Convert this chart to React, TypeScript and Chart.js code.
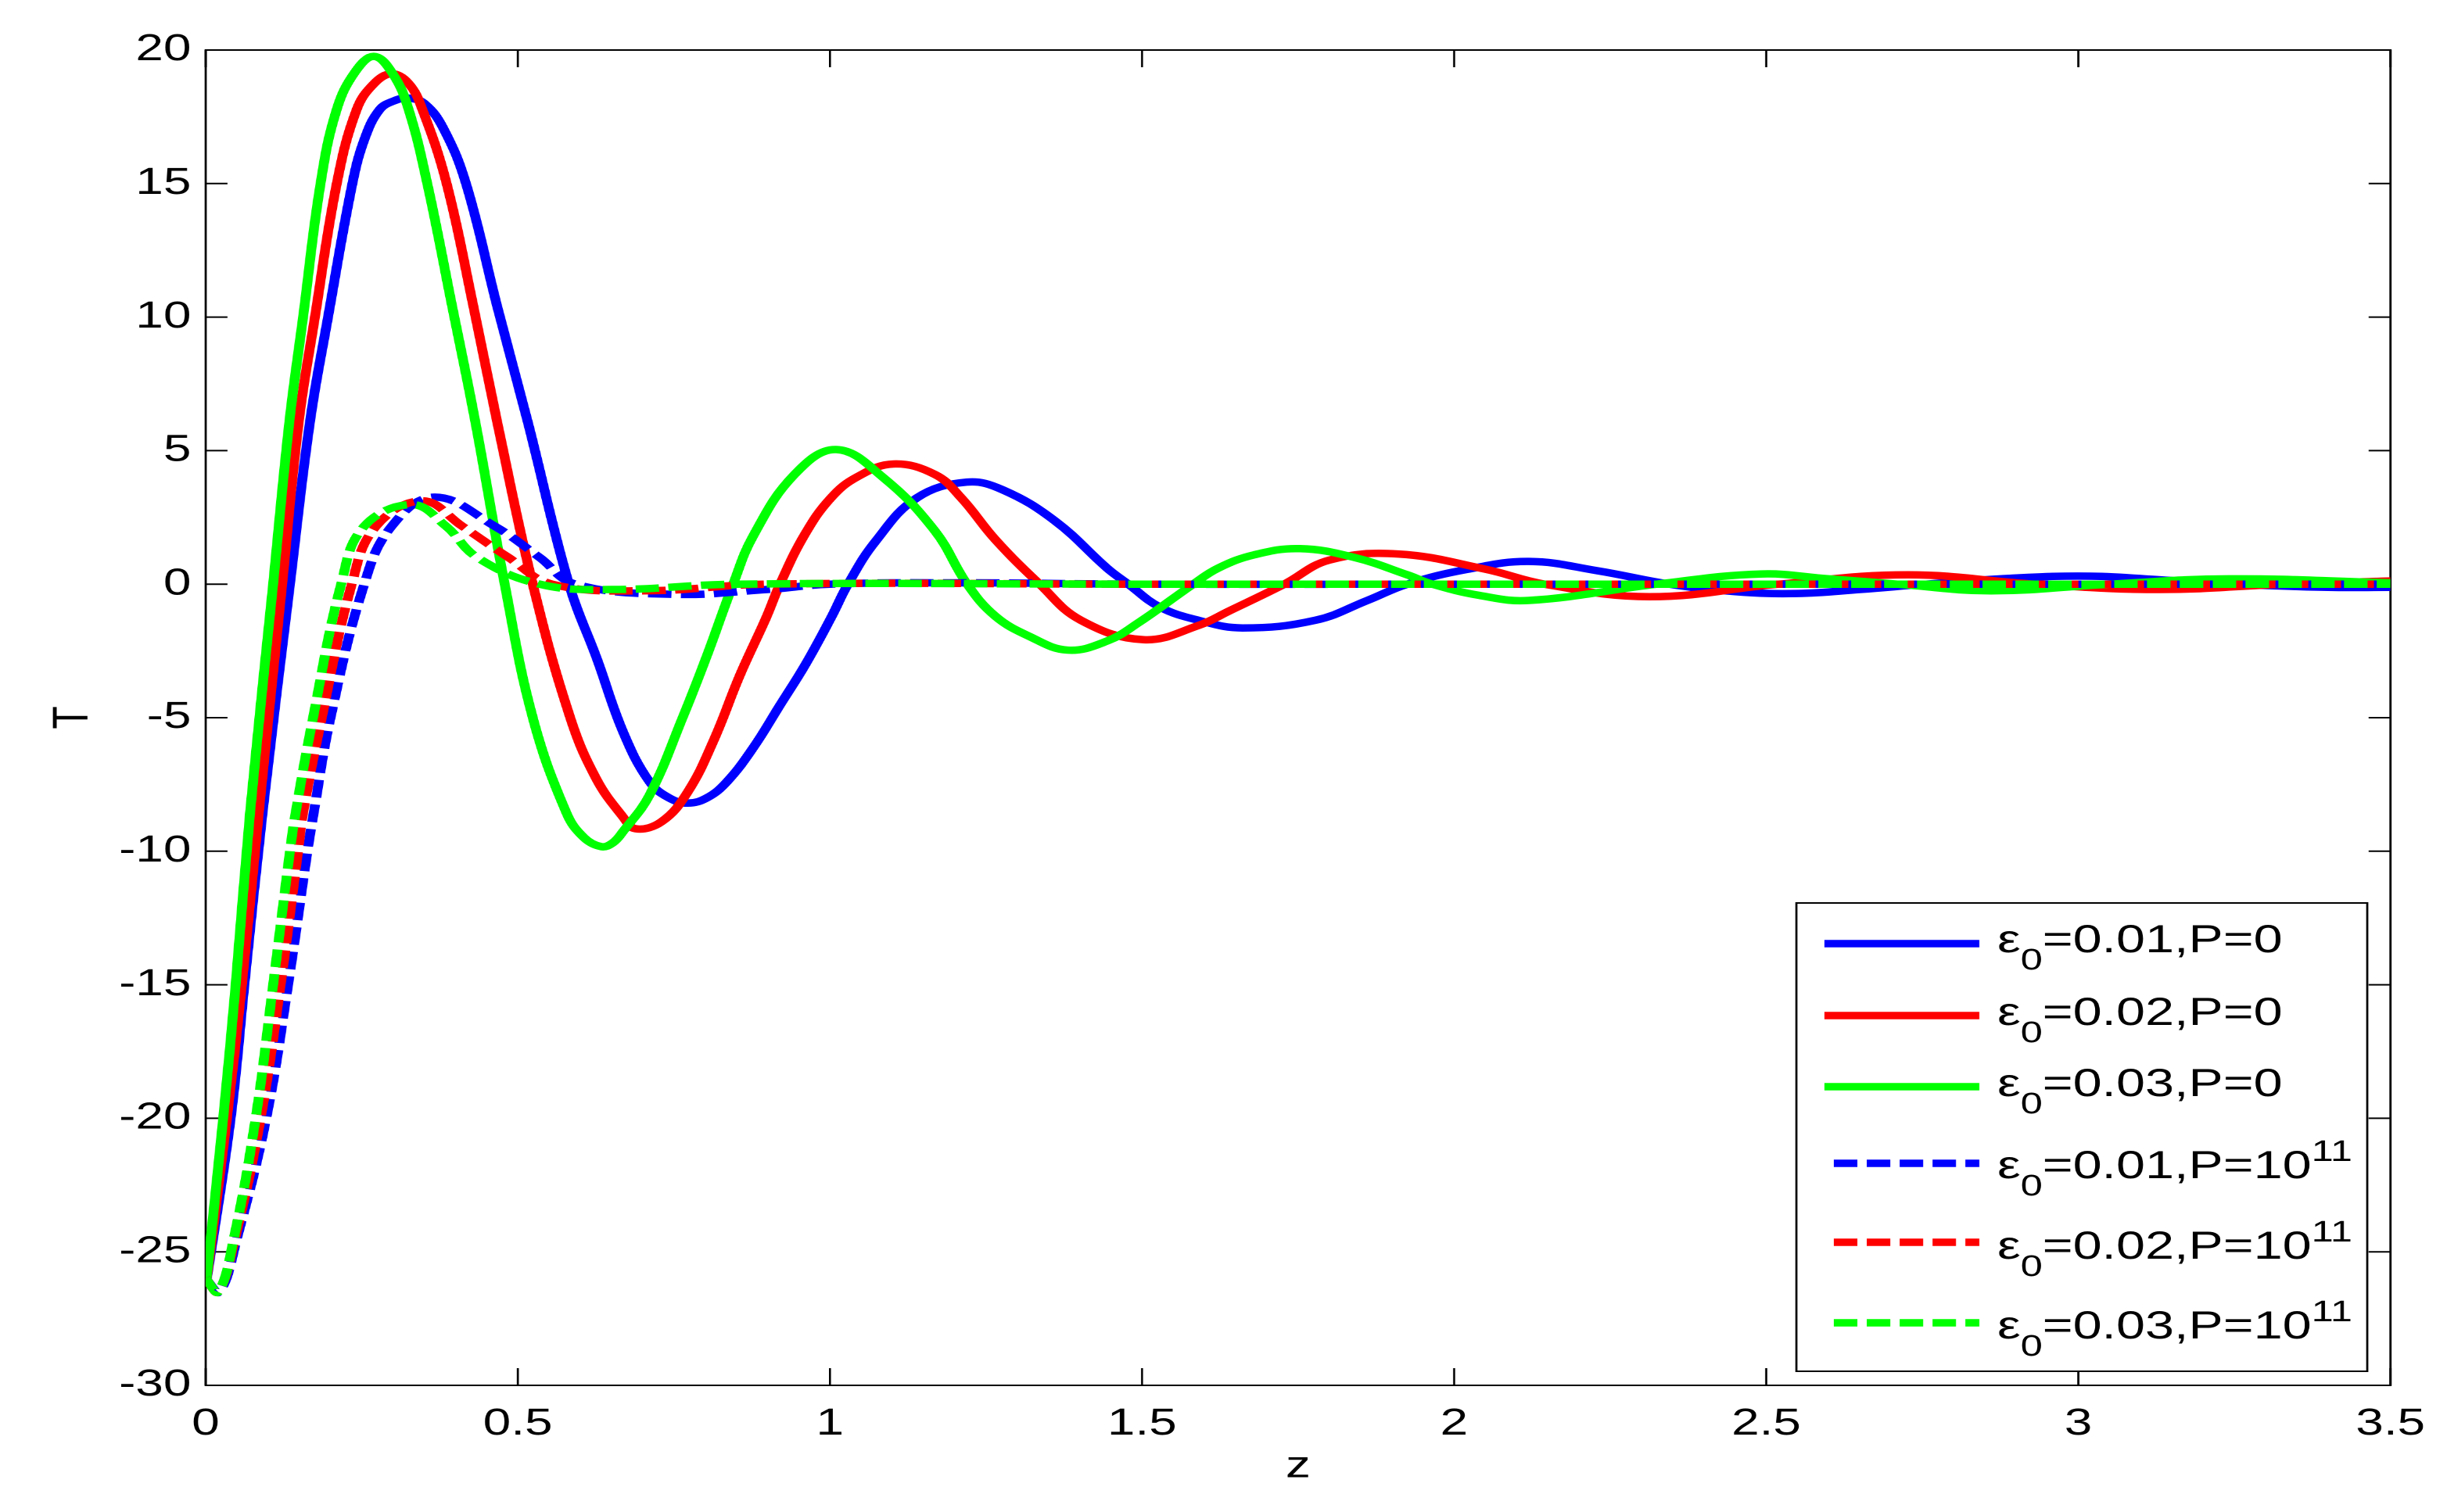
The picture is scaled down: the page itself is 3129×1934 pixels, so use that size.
import React, { useEffect, useRef } from "react";
import { Chart, registerables } from "chart.js";

Chart.register(...registerables);

// ---------------- data ----------------
const zBlueSolid = [0, 0.04, 0.062, 0.091, 0.135, 0.167, 0.196, 0.235, 0.255, 0.279, 0.302, 0.325, 0.35, 0.38, 0.417, 0.467, 0.516, 0.582, 0.627, 0.669, 0.711, 0.742, 0.772, 0.803, 0.835, 0.877, 0.919, 0.961, 1.002, 1.029, 1.073, 1.14, 1.219, 1.277, 1.361, 1.444, 1.478, 1.528, 1.59, 1.661, 1.778, 1.861, 1.925, 2.02, 2.12, 2.23, 2.345, 2.45, 2.55, 2.65, 2.756, 2.89, 3.02, 3.14, 3.25, 3.4, 3.5];
const tBlueSolid = [-26.3, -20, -15, -8.57, 0, 6.07, 10, 15, 16.7, 17.78, 18.1, 18.2, 18.0, 17.1, 15, 10.4, 6.07, 0, -2.81, -5.55, -7.4, -8.0, -8.2, -8.0, -7.4, -6.13, -4.57, -3.0, -1.25, 0, 1.6, 3.24, 3.82, 3.53, 2.36, 0.6, 0, -0.85, -1.35, -1.64, -1.35, -0.61, 0, 0.55, 0.85, 0.5, 0, -0.28, -0.35, -0.2, 0, 0.22, 0.3, 0.15, 0, -0.12, -0.12];

const zRedSolid = [0, 0.034, 0.058, 0.085, 0.1225, 0.149, 0.175, 0.21, 0.242, 0.27, 0.298, 0.325, 0.347, 0.386, 0.428, 0.467, 0.524, 0.584, 0.626, 0.668, 0.689, 0.73, 0.772, 0.814, 0.856, 0.898, 0.92, 0.96, 1.002, 1.044, 1.102, 1.168, 1.21, 1.265, 1.336, 1.402, 1.503, 1.59, 1.64, 1.728, 1.8, 1.91, 2.05, 2.145, 2.313, 2.52, 2.727, 2.93, 3.13, 3.33, 3.5];
const tRedSolid = [-26.3, -20, -15, -8.57, 0, 6.07, 10, 15, 17.78, 18.75, 19.11, 18.75, 17.78, 15, 10.5, 6.07, 0, -5, -7.3, -8.7, -9.16, -8.9, -7.79, -5.84, -3.4, -1.25, 0, 1.87, 3.24, 4.02, 4.5, 4.11, 3.24, 1.67, 0, -1.35, -2.08, -1.55, -1.0, 0, 0.9, 1.13, 0.56, 0, -0.47, 0, 0.35, 0, -0.2, 0, 0.12];

const zGreenSolid = [0, 0.028, 0.048, 0.071, 0.108, 0.134, 0.156, 0.184, 0.21, 0.24, 0.27, 0.3, 0.325, 0.355, 0.394, 0.432, 0.479, 0.524, 0.578, 0.606, 0.634, 0.652, 0.669, 0.711, 0.764, 0.801, 0.845, 0.877, 0.943, 1.01, 1.085, 1.168, 1.22, 1.265, 1.319, 1.381, 1.444, 1.494, 1.582, 1.622, 1.68, 1.753, 1.84, 1.925, 1.965, 2.04, 2.12, 2.325, 2.49, 2.6, 2.71, 2.86, 3.05, 3.24, 3.5];
const tGreenSolid = [-26.3, -20, -15, -8.57, 0, 6.07, 10, 15, 17.78, 19.2, 19.76, 19.1, 17.78, 15, 10.5, 6.07, 0, -5, -8.57, -9.49, -9.83, -9.69, -9.25, -7.9, -5.0, -2.8, 0, 1.8, 4.1, 5.04, 4.0, 2.0, 0, -1.2, -1.95, -2.47, -2.13, -1.45, 0, 0.6, 1.1, 1.33, 1.0, 0.35, 0, -0.42, -0.61, 0, 0.38, 0.2, 0, -0.25, 0, 0.2, 0.05];

const zBlueDashed = [0, 0.022, 0.05, 0.097, 0.132, 0.163, 0.173, 0.2, 0.254, 0.298, 0.367, 0.463, 0.535, 0.592, 0.75, 0.9, 1.0, 1.2, 1.5, 2.0, 2.5, 3.0, 3.5];
const tBlueDashed = [-26.0, -26.5, -24.5, -20, -15, -10, -8.57, -5, 0, 2.17, 3.26, 2.17, 1.0, 0, -0.38, -0.2, 0, 0.05, 0, 0, 0, 0, 0];

const zRedDashed = [0, 0.02, 0.047, 0.088, 0.12, 0.148, 0.156, 0.186, 0.234, 0.273, 0.347, 0.411, 0.485, 0.555, 0.7, 0.9, 1.5, 2.0, 2.5, 3.0, 3.5];
const tRedDashed = [-26.0, -26.5, -24.5, -20, -15, -10, -8.57, -5, 0, 2.17, 3.12, 2.17, 1.0, 0, -0.25, 0, 0, 0, 0, 0, 0];

const zGreenDashed = [0, 0.02, 0.045, 0.08, 0.108, 0.135, 0.144, 0.172, 0.217, 0.254, 0.33, 0.385, 0.435, 0.535, 0.65, 0.85, 1.5, 2.0, 2.5, 3.0, 3.5];
const tGreenDashed = [-26.0, -26.5, -24.5, -20, -15, -10, -8.57, -5, 0, 2.17, 2.98, 2.17, 1.0, 0, -0.2, 0, 0, 0, 0, 0, 0];

const xTickValues = [0, 0.5, 1, 1.5, 2, 2.5, 3, 3.5];
const xTickLabels = ["0", "0.5", "1", "1.5", "2", "2.5", "3", "3.5"];
const yTickValues = [-30, -25, -20, -15, -10, -5, 0, 5, 10, 15, 20];
const yTickLabels = ["-30", "-25", "-20", "-15", "-10", "-5", "0", "5", "10", "15", "20"];

const legendEps = ["0.01", "0.02", "0.03", "0.01", "0.02", "0.03"];
const legendPBase = ["0", "0", "0", "10", "10", "10"];
const legendPExp = ["", "", "", "11", "11", "11"];
const seriesLabels = [
  "ε0=0.01,P=0",
  "ε0=0.02,P=0",
  "ε0=0.03,P=0",
  "ε0=0.01,P=10^11",
  "ε0=0.02,P=10^11",
  "ε0=0.03,P=10^11",
];
const seriesZ = [zBlueSolid, zRedSolid, zGreenSolid, zBlueDashed, zRedDashed, zGreenDashed];
const seriesT = [tBlueSolid, tRedSolid, tGreenSolid, tBlueDashed, tRedDashed, tGreenDashed];
const seriesColors = ["#0000ff", "#ff0000", "#00ff00", "#0000ff", "#ff0000", "#00ff00"];
const seriesDashed = [false, false, false, true, true, true];

// ---------------- layout ----------------
const FULL_W = 3129;
const FULL_H = 1934;
const W = 2353; // logical canvas width, stretched horizontally to FULL_W
const SX = FULL_W / W;
const L = (px: number) => px / SX;
const PLOT_LEFT = L(263);
const PLOT_RIGHT = L(3058);
const PLOT_TOP = 64;
const PLOT_BOTTOM = 1772;
const FONT = '"Liberation Sans", Arial, sans-serif';
const LINE_W = 9.5;
const DASH = [22.6, 9];

const framePlugin = {
  id: "frameTicks",
  beforeDatasetsDraw(chart: any) {
    const { ctx, chartArea: a, scales } = chart;
    const xs = scales.x;
    const ys = scales.y;
    ctx.save();
    ctx.strokeStyle = "#000";
    ctx.lineWidth = 2;
    ctx.setLineDash([]);
    ctx.beginPath();
    xTickValues.forEach((v) => {
      const px = xs.getPixelForValue(v);
      ctx.moveTo(px, a.bottom);
      ctx.lineTo(px, a.bottom - 22);
      ctx.moveTo(px, a.top);
      ctx.lineTo(px, a.top + 22);
    });
    yTickValues.forEach((v) => {
      const py = ys.getPixelForValue(v);
      ctx.moveTo(a.left, py);
      ctx.lineTo(a.left + 21, py);
      ctx.moveTo(a.right, py);
      ctx.lineTo(a.right - 21, py);
    });
    ctx.stroke();
    ctx.strokeRect(a.left, a.top, a.right - a.left, a.bottom - a.top);
    ctx.restore();
  },
};

const legendPlugin = {
  id: "richLegend",
  afterDraw(chart: any) {
    const ctx = chart.ctx;
    const bx = L(2297);
    const by = 1155;
    const bw = L(3027) - L(2297);
    const bh = 1754 - 1155;
    const lineY = [1207, 1299, 1390, 1488, 1589, 1692];
    const baseY = [1218, 1311, 1402, 1507, 1610, 1712];
    const mainFont = `50px ${FONT}`;
    const smallFont = `38px ${FONT}`;
    ctx.save();
    ctx.fillStyle = "#fff";
    ctx.fillRect(bx, by, bw, bh);
    ctx.strokeStyle = "#000";
    ctx.lineWidth = 2;
    ctx.setLineDash([]);
    ctx.strokeRect(bx, by, bw, bh);
    for (let i = 0; i < legendEps.length; i++) {
      ctx.strokeStyle = seriesColors[i];
      ctx.lineWidth = LINE_W;
      ctx.lineCap = "butt";
      ctx.setLineDash(seriesDashed[i] ? DASH : []);
      ctx.beginPath();
      ctx.moveTo(seriesDashed[i] ? L(2345) : L(2333), lineY[i]);
      ctx.lineTo(L(2531), lineY[i]);
      ctx.stroke();
      ctx.setLineDash([]);

      ctx.fillStyle = "#000";
      ctx.textBaseline = "alphabetic";
      ctx.textAlign = "left";
      let x = L(2554);
      const b = baseY[i];
      ctx.font = mainFont;
      ctx.fillText("ε", x, b);
      x += ctx.measureText("ε").width;
      ctx.font = smallFont;
      ctx.fillText("0", x, b + 22);
      x += ctx.measureText("0").width;
      ctx.font = mainFont;
      const main = `=${legendEps[i]},P=${legendPBase[i]}`;
      ctx.fillText(main, x, b);
      x += ctx.measureText(main).width;
      if (legendPExp[i]) {
        ctx.font = smallFont;
        ctx.fillText(legendPExp[i], x, b - 22);
      }
    }
    ctx.restore();
  },
};

export default function App() {
  const ref = useRef<HTMLCanvasElement>(null);

  useEffect(() => {
    document.body.style.margin = "0";
    document.body.style.overflow = "hidden";
    const canvas = ref.current;
    if (!canvas) return;

    const datasets = seriesZ.map((zs, i) => ({
      label: seriesLabels[i],
      data: zs.map((z, k) => ({ x: z, y: seriesT[i][k] })),
      borderColor: seriesColors[i],
      backgroundColor: seriesColors[i],
      borderWidth: LINE_W,
      borderDash: seriesDashed[i] ? DASH : [],
      borderCapStyle: "butt",
      borderJoinStyle: "round",
      tension: 0.4,
      pointRadius: 0,
      pointHoverRadius: 0,
      fill: false,
      order: seriesZ.length - i,
    }));

    const tickFont = { family: FONT, size: 48 };

    const chart = new Chart(canvas, {
      type: "line",
      data: { datasets } as any,
      options: {
        responsive: false,
        animation: false,
        devicePixelRatio: 2,
        events: [],
        layout: {
          padding: { left: 0, top: PLOT_TOP, right: W - PLOT_RIGHT, bottom: 0 },
        },
        plugins: {
          legend: { display: false },
          tooltip: { enabled: false },
        },
        scales: {
          x: {
            type: "linear",
            min: 0,
            max: 3.5,
            afterFit: (s: any) => {
              s.height = FULL_H - PLOT_BOTTOM;
            },
            afterBuildTicks: (s: any) => {
              s.ticks = xTickValues.map((v) => ({ value: v }));
            },
            grid: { display: false, drawTicks: false },
            border: { display: false },
            ticks: {
              color: "#000",
              font: tickFont,
              padding: 21,
              maxRotation: 0,
              autoSkip: false,
              callback: (_v: any, i: number) => xTickLabels[i],
            },
            title: {
              display: true,
              text: "z",
              color: "#000",
              font: tickFont,
              padding: { top: 0, bottom: 29 },
            },
          },
          y: {
            type: "linear",
            min: -30,
            max: 20,
            afterFit: (s: any) => {
              s.width = PLOT_LEFT;
            },
            afterBuildTicks: (s: any) => {
              s.ticks = yTickValues.map((v) => ({ value: v }));
            },
            grid: { display: false, drawTicks: false },
            border: { display: false },
            ticks: {
              color: "#000",
              font: tickFont,
              padding: 14,
              autoSkip: false,
              callback: (_v: any, i: number) => yTickLabels[i],
            },
            title: {
              display: true,
              text: "T",
              color: "#000",
              font: tickFont,
              padding: { top: 42, bottom: 0 },
            },
          },
        },
      } as any,
      plugins: [framePlugin, legendPlugin],
    });

    return () => chart.destroy();
  }, []);

  return (
    <div
      style={{
        width: FULL_W,
        height: FULL_H,
        overflow: "hidden",
        background: "#fff",
        position: "relative",
      }}
    >
      <div
        style={{
          width: W,
          height: FULL_H,
          transform: `scaleX(${SX})`,
          transformOrigin: "0 0",
        }}
      >
        <canvas
          ref={ref}
          width={W}
          height={FULL_H}
          style={{ width: W, height: FULL_H, display: "block" }}
        />
      </div>
    </div>
  );
}
